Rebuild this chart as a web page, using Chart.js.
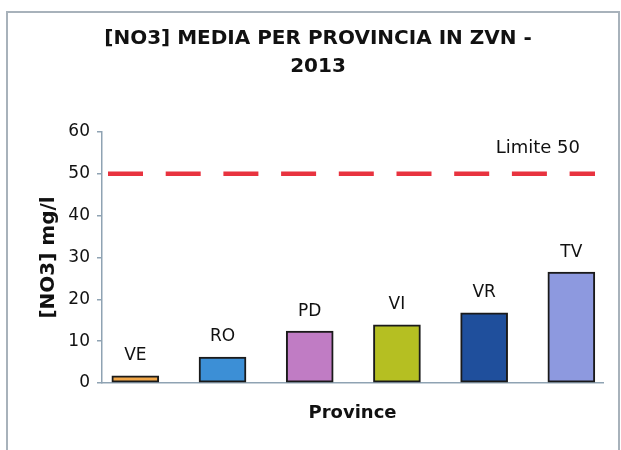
<!DOCTYPE html>
<html>
<head>
<meta charset="utf-8">
<script src="https://cdn.jsdelivr.net/npm/chart.js@4"></script>
<style>
  body { margin: 0; background: #fff; }
  canvas { display: block; }
</style>
</head>
<body>
<canvas id="chart" width="621" height="450"></canvas>
<script>
// dati: media [NO3] per provincia
const categories = ['VE', 'RO', 'PD', 'VI', 'VR', 'TV'];
const values = [1.7, 6.2, 12.4, 13.9, 16.8, 26.5];
const barColors = ['#f2a748', '#3c8fd6', '#c07cc4', '#b5bf22', '#1f4f9c', '#8d99df'];
const yTicks = [0, 10, 20, 30, 40, 50, 60];
const limitValue = 50;
const limitLabel = 'Limite 50';
const titleLines = ['[NO3] MEDIA PER PROVINCIA IN ZVN -', '2013'];

const axisColor = '#8fa3b3';
const FONT = "'DejaVu Sans', Verdana, sans-serif";

// cornice esterna + titolo (Excel non lo centra sull'area del grafico)
const framePlugin = {
    id: 'frame',
    beforeDraw(chart) {
        const ctx = chart.ctx;
        ctx.save();
        ctx.fillStyle = '#fff';
        ctx.fillRect(0, 0, chart.width, chart.height);
        ctx.strokeStyle = '#a8b2bb';
        ctx.lineWidth = 2;
        ctx.strokeRect(7, 12, 612, 460);
        ctx.fillStyle = '#111';
        ctx.font = 'bold 20px ' + FONT;
        ctx.textAlign = 'center';
        ctx.textBaseline = 'middle';
        titleLines.forEach((line, i) => {
            ctx.fillText(line, 318, 39 + i * 28);
        });
        ctx.restore();
    }
};

// linea tratteggiata del limite + etichetta
const limitPlugin = {
    id: 'limit',
    afterDatasetsDraw(chart) {
        const {ctx, chartArea, scales} = chart;
        const y = scales.y.getPixelForValue(limitValue);
        ctx.save();
        ctx.strokeStyle = '#e8333f';
        ctx.lineWidth = 4.5;
        ctx.setLineDash([35, 22.7]);
        ctx.beginPath();
        ctx.moveTo(chartArea.left + 6, y);
        ctx.lineTo(chartArea.right - 8, y);
        ctx.stroke();
        ctx.setLineDash([]);
        ctx.fillStyle = '#111';
        ctx.font = '18px ' + FONT;
        ctx.textAlign = 'right';
        ctx.textBaseline = 'middle';
        ctx.fillText(limitLabel, chartArea.right - 23, y - 26);
        ctx.restore();
    }
};

// nomi delle province sopra le barre
const barLabelPlugin = {
    id: 'barLabels',
    afterDatasetsDraw(chart) {
        const ctx = chart.ctx;
        const meta = chart.getDatasetMeta(0);
        ctx.save();
        ctx.fillStyle = '#111';
        ctx.font = '17px ' + FONT;
        ctx.textAlign = 'center';
        ctx.textBaseline = 'middle';
        meta.data.forEach((bar, i) => {
            ctx.fillText(categories[i], bar.x, bar.y - 20);
        });
        ctx.restore();
    }
};

new Chart(document.getElementById('chart'), {
    type: 'bar',
    data: {
        datasets: [{
            data: categories.map((c, i) => ({x: i, y: values[i]})),
            backgroundColor: barColors,
            borderColor: '#1a1a1a',
            borderWidth: 2,
            borderSkipped: false,
            barThickness: 47
        }]
    },
    options: {
        responsive: false,
        animation: false,
        layout: { padding: { left: 8, right: 18, top: 132, bottom: 0 } },
        plugins: {
            legend: { display: false },
            tooltip: { enabled: false },
            title: { display: false }
        },
        scales: {
            x: {
                type: 'linear',
                offset: false,
                min: -0.382,
                max: 5.363,
                ticks: { display: false },
                grid: { display: false, offset: false },
                border: { display: true, color: axisColor, width: 1.5 },
                title: {
                    display: true,
                    text: 'Province',
                    color: '#111',
                    font: { family: FONT, size: 18, weight: 'bold', lineHeight: 1.2 },
                    padding: { top: 0, bottom: 26 }
                },
                afterFit(scale) { scale.height = 67; }
            },
            y: {
                min: 0,
                max: 60,
                afterBuildTicks(scale) { scale.ticks = yTicks.map(v => ({value: v})); },
                ticks: {
                    color: '#111',
                    padding: 7,
                    font: { family: FONT, size: 17 }
                },
                grid: {
                    drawOnChartArea: false,
                    drawTicks: true,
                    tickLength: 5,
                    color: axisColor,
                    lineWidth: 1.5
                },
                border: { display: true, color: axisColor, width: 1.5 },
                title: {
                    display: true,
                    text: '[NO3] mg/l',
                    color: '#111',
                    font: { family: FONT, size: 20, weight: 'bold', lineHeight: 1.2 },
                    padding: { top: 29, bottom: 0 }
                },
                afterFit(scale) { scale.width = 94; }
            }
        }
    },
    plugins: [framePlugin, limitPlugin, barLabelPlugin]
});
</script>
</body>
</html>
